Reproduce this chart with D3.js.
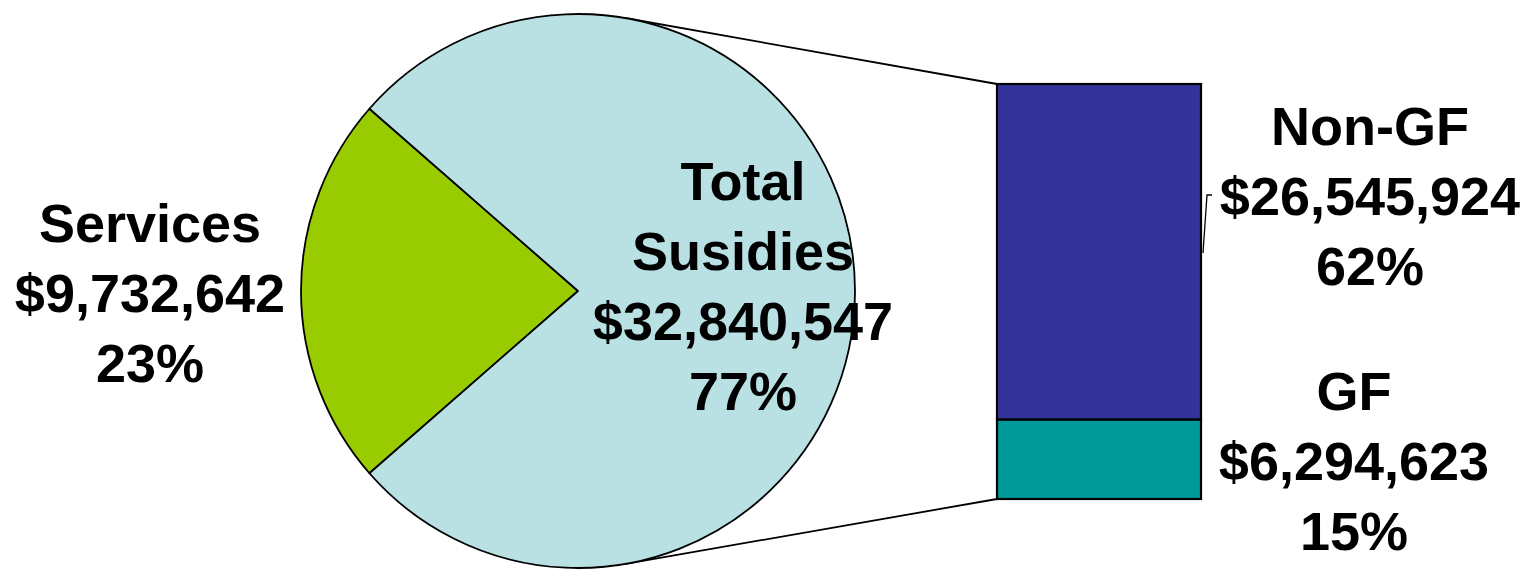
<!DOCTYPE html>
<html>
<head>
<meta charset="utf-8">
<script src="https://cdn.jsdelivr.net/npm/d3@7"></script>
<style>
  html, body { margin: 0; padding: 0; background: #ffffff; }
  svg { display: block; }
  text { font-family: "Liberation Sans", Arial, sans-serif; font-weight: bold; fill: #000; }
</style>
</head>
<body>
<svg id="chart" width="1529" height="569"></svg>
<script>
// Pie slices: services vs. total subsidies
const pieCategories = ["Services", "Total Susidies"];
const pieValues = [9732642, 32840547];
const pieColors = ["#99CC00", "#B9E0E3"];

// Breakdown of the subsidies slice (stacked bottom to top)
const barCategories = ["GF", "Non-GF"];
const barValues = [6294623, 26545924];
const barColors = ["#009999", "#333399"];

const svg = d3.select("#chart");
const money = d3.format("$,");
const pct = d3.format(".0%");
const grandTotal = d3.sum(pieValues);

// geometry
const cx = 578, cy = 291, r = 277;
const barLeft = 997, barRight = 1201;
const barTop = 84, barBottom = 499;
const y = d3.scaleLinear().domain([0, pieValues[1]]).range([barBottom, barTop]);

// tangent point on the pie circle as seen from an outside point (side = -1 upper, +1 lower)
function tangentPoint(px, py, side) {
  const dx = px - cx, dy = py - cy;
  const d = Math.hypot(dx, dy);
  const a = Math.atan2(dy, dx) + side * Math.acos(r / d);
  return [cx + r * Math.cos(a), cy + r * Math.sin(a)];
}

// connector lines from the pie to the bar corners (drawn behind the pie)
const conn = svg.append("g").attr("stroke", "#000").attr("stroke-width", 1.8).attr("fill", "none");
[[y(pieValues[1]), -1], [y(0), 1]].forEach(([py, side]) => {
  const [tx, ty] = tangentPoint(barLeft, py, side);
  conn.append("line").attr("x1", tx).attr("y1", ty).attr("x2", barLeft).attr("y2", py);
});

// ---- Pie ----
const servicesSpan = pieValues[0] / grandTotal * 2 * Math.PI;
const start = 1.5 * Math.PI - servicesSpan / 2;
const pie = d3.pie().sort(null).startAngle(start).endAngle(start + 2 * Math.PI);
const arc = d3.arc().innerRadius(0).outerRadius(r);
const arcs = pie(pieValues);

const gPie = svg.append("g").attr("transform", `translate(${cx},${cy})`);
gPie.selectAll("path")
  .data(arcs)
  .join("path")
  .attr("d", arc)
  .attr("fill", (d, i) => pieColors[i])
  .attr("stroke", "#000")
  .attr("stroke-width", 1.8)
  .attr("stroke-linejoin", "round");

// ---- Stacked bar ----
const cum = d3.cumsum(barValues);
const segs = barValues.map((v, i) => ({ y0: cum[i] - v, y1: cum[i], i }));

svg.append("g").selectAll("rect")
  .data(segs)
  .join("rect")
  .attr("x", barLeft)
  .attr("width", barRight - barLeft)
  .attr("y", d => y(d.y1))
  .attr("height", d => y(d.y0) - y(d.y1))
  .attr("fill", d => barColors[d.i])
  .attr("stroke", "#000")
  .attr("stroke-width", 2.2);

// ---- Labels ----
const fontSize = 54, lineGap = 70;
function label(x, yFirst, lines) {
  const t = svg.append("text")
    .attr("text-anchor", "middle")
    .attr("font-size", fontSize);
  lines.forEach((s, k) => {
    t.append("tspan").attr("x", x).attr("y", yFirst + k * lineGap).text(s);
  });
}

label(150, 242, [pieCategories[0], money(pieValues[0]), pct(pieValues[0] / grandTotal)]);
label(743, 200, ["Total", "Susidies", money(pieValues[1]), pct(pieValues[1] / grandTotal)]);
label(1370, 145, [barCategories[1], money(barValues[1]), pct(barValues[1] / grandTotal)]);
label(1354, 410, [barCategories[0], money(barValues[0]), pct(barValues[0] / grandTotal)]);

// small leader from the Non-GF segment to its label
svg.append("path")
  .attr("d", `M${barRight + 2},253 L${barRight + 6},195 L${barRight + 11},195`)
  .attr("fill", "none")
  .attr("stroke", "#000")
  .attr("stroke-width", 1.3);
</script>
</body>
</html>
